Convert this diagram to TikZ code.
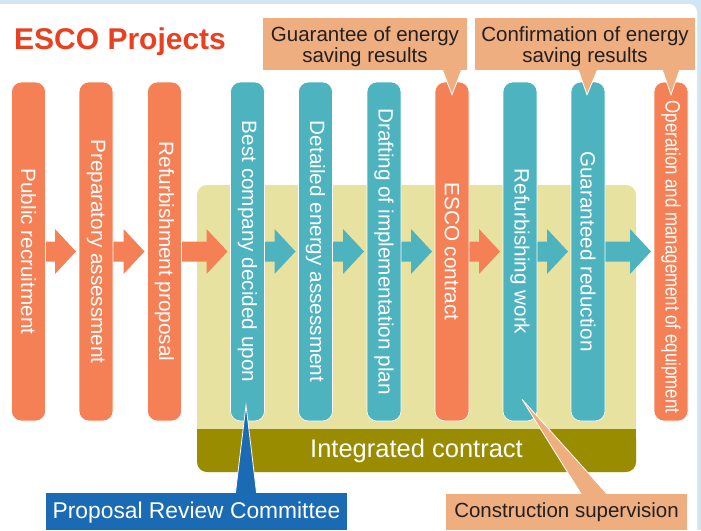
\documentclass[tikz,border=0pt]{standalone}
\usepackage{fontspec}
\setmainfont{Liberation Sans}
\usetikzlibrary{calc}
\definecolor{pillorange}{RGB}{245,128,86}
\definecolor{pillteal}{RGB}{77,179,191}
\definecolor{calloutsalmon}{RGB}{239,174,128}
\definecolor{panelkhaki}{RGB}{232,226,160}
\definecolor{bandolive}{RGB}{154,140,0}
\definecolor{committeeblue}{RGB}{26,106,180}
\definecolor{titlered}{RGB}{233,64,32}
\definecolor{bgblue}{RGB}{208,230,242}
\definecolor{calltext}{RGB}{35,31,32}
\newcommand\blockarrow[3]{%
  \fill[#3] ($(#1.center)+(0,-10)$) -- ($(#2.west)+(-24,-10)$) -- ($(#2.west)+(-24,-22.5)$)
    -- ($(#2.west)+(-3,0)$) -- ($(#2.west)+(-24,22.5)$) -- ($(#2.west)+(-24,10)$)
    -- ($(#1.center)+(0,10)$) -- cycle;}
\begin{document}
\begin{tikzpicture}[x=1pt,y=-1pt,
  pillbox/.style={draw=white, line width=0.6pt, rounded corners=10pt, minimum width=34pt, minimum height=339pt, inner sep=0pt},
  pilltext/.style={text=white, rotate=-90, inner sep=0pt, font=\fontsize{20.7}{24}\selectfont},
  calloutbox/.style={fill=calloutsalmon, inner sep=0pt},
  callouttext/.style={text=calltext, align=center, inner sep=0pt, font=\fontsize{20.5}{21}\selectfont},
  pointer/.style={draw=white, line width=0.8pt, line join=miter}
]
\useasboundingbox (0,0) rectangle (701,530);
% background
\fill[bgblue] (0,0) rectangle (701,530);
\fill[white, rounded corners=8pt] (-10,4) rectangle (697,545);
% integrated contract panel
\fill[panelkhaki, rounded corners=10pt] (197,185) rectangle (636,472);
\fill[bandolive, rounded corners=10pt] (197,429) rectangle (636,472);
\fill[bandolive] (197,429) rectangle (636,445);
\node[text=white, inner sep=0pt, font=\fontsize{25.5}{28}\selectfont] (band) at (416.5,451) {Integrated contract};
% title
\node[anchor=base west, inner sep=0pt, text=titlered, font=\fontsize{30}{34}\bfseries] (title) at (14,49) {ESCO Projects};
% pill positions
\coordinate (c1) at (28.5,251.5);
\coordinate (c2) at (96,251.5);
\coordinate (c3) at (164.5,251.5);
\coordinate (c4) at (247.5,251.5);
\coordinate (c5) at (315.5,251.5);
\coordinate (c6) at (384,251.5);
\coordinate (c7) at (452,251.5);
\coordinate (c8) at (520,251.5);
\coordinate (c9) at (588,251.5);
\coordinate (c10) at (671,251.5);
% invisible anchors for arrows (same geometry as pills)
\foreach \i in {1,...,10}{\node[minimum width=34pt, minimum height=339pt, inner sep=0pt, outer sep=0pt] (a\i) at (c\i) {};}
% arrows (behind pills)
\blockarrow{a1}{a2}{pillorange}
\blockarrow{a2}{a3}{pillorange}
\blockarrow{a3}{a4}{pillorange}
\blockarrow{a4}{a5}{pillteal}
\blockarrow{a5}{a6}{pillteal}
\blockarrow{a6}{a7}{pillteal}
\blockarrow{a7}{a8}{pillorange}
\blockarrow{a8}{a9}{pillteal}
\blockarrow{a9}{a10}{pillteal}
% pills
\node[pillbox, fill=pillorange] (p1) at (c1) {};
\node[pillbox, fill=pillorange] (p2) at (c2) {};
\node[pillbox, fill=pillorange] (p3) at (c3) {};
\node[pillbox, fill=pillteal] (p4) at (c4) {};
\node[pillbox, fill=pillteal] (p5) at (c5) {};
\node[pillbox, fill=pillteal] (p6) at (c6) {};
\node[pillbox, fill=pillorange] (p7) at (c7) {};
\node[pillbox, fill=pillteal] (p8) at (c8) {};
\node[pillbox, fill=pillteal] (p9) at (c9) {};
\node[pillbox, fill=pillorange] (p10) at (c10) {};
% pill texts
\node[pilltext] (t1) at (p1.center) {Public recruitment};
\node[pilltext] (t2) at (p2.center) {Preparatory assessment};
\node[pilltext] (t3) at (p3.center) {Refurbishment proposal};
\node[pilltext] (t4) at (p4.center) {Best company decided upon};
\node[pilltext] (t5) at (p5.center) {Detailed energy assessment};
\node[pilltext] (t6) at (p6.center) {Drafting of implementation plan};
\node[pilltext] (t7) at (p7.center) {ESCO contract};
\node[pilltext] (t8) at (p8.center) {Refurbishing work};
\node[pilltext] (t9) at (p9.center) {Guaranteed reduction};
\node[pilltext] (t10) at ($(p10.center)+(0,5.5)$) {\scalebox{0.815}[1]{Operation and management of equipment}};
% top callouts
\node[calloutbox, minimum width=204pt, minimum height=52pt] (g1) at (365,44) {};
\node[calloutbox, minimum width=220pt, minimum height=52pt] (g2) at (585,44) {};
\fill[calloutsalmon, pointer] ($(p7.north |- g1.south)+(-11,-4)$) -- ($(p7.north)+(0,13)$) -- ($(p7.north |- g1.south)+(11,-4)$) -- cycle;
\fill[calloutsalmon, pointer] ($(p9.north |- g2.south)+(-11,-4)$) -- ($(p9.north)+(-1,13)$) -- ($(p9.north |- g2.south)+(11,-4)$) -- cycle;
\fill[calloutsalmon, pointer] ($(p10.north |- g2.south)+(-10,-4)$) -- ($(p10.north)+(0,13)$) -- ($(p10.north |- g2.south)+(10,-4)$) -- cycle;
\fill[calloutsalmon] ($(g1.south west)+(0,-6)$) rectangle (g1.south east);
\fill[calloutsalmon] ($(g2.south west)+(0,-6)$) rectangle (g2.south east);
\node[callouttext] (g1t) at ($(g1.center)+(0,2.4)$) {Guarantee of energy\\saving results};
\node[callouttext] (g2t) at ($(g2.center)+(0,2.4)$) {Confirmation of energy\\saving results};
% bottom callouts
\node[fill=committeeblue, minimum width=301pt, minimum height=37pt, inner sep=0pt] (prc) at (196.5,511.5) {};
\node[fill=calloutsalmon, minimum width=241pt, minimum height=36pt, inner sep=0pt] (cs) at (566.5,512) {};
\fill[committeeblue, pointer] ($(p4.south |- prc.north)+(-12.5,4)$) -- ($(p4.south)+(-1.5,-16)$) -- ($(p4.south |- prc.north)+(9.5,4)$) -- cycle;
\fill[calloutsalmon, pointer] ($(cs.north)+(17,4)$) -- ($(p8.south)+(2,-22)$) -- ($(cs.north)+(44,4)$) -- cycle;
\fill[committeeblue] (prc.north west) rectangle ($(prc.north east)+(0,6)$);
\fill[calloutsalmon] (cs.north west) rectangle ($(cs.north east)+(0,6)$);
\node[text=white, inner sep=0pt, font=\fontsize{22.8}{25}\selectfont] (prct) at ($(prc.center)+(0,1)$) {Proposal Review Committee};
\node[text=calltext, inner sep=0pt, font=\fontsize{20.5}{23}\selectfont] (cst) at ($(cs.center)+(0,0)$) {Construction supervision};
\end{tikzpicture}
\end{document}
